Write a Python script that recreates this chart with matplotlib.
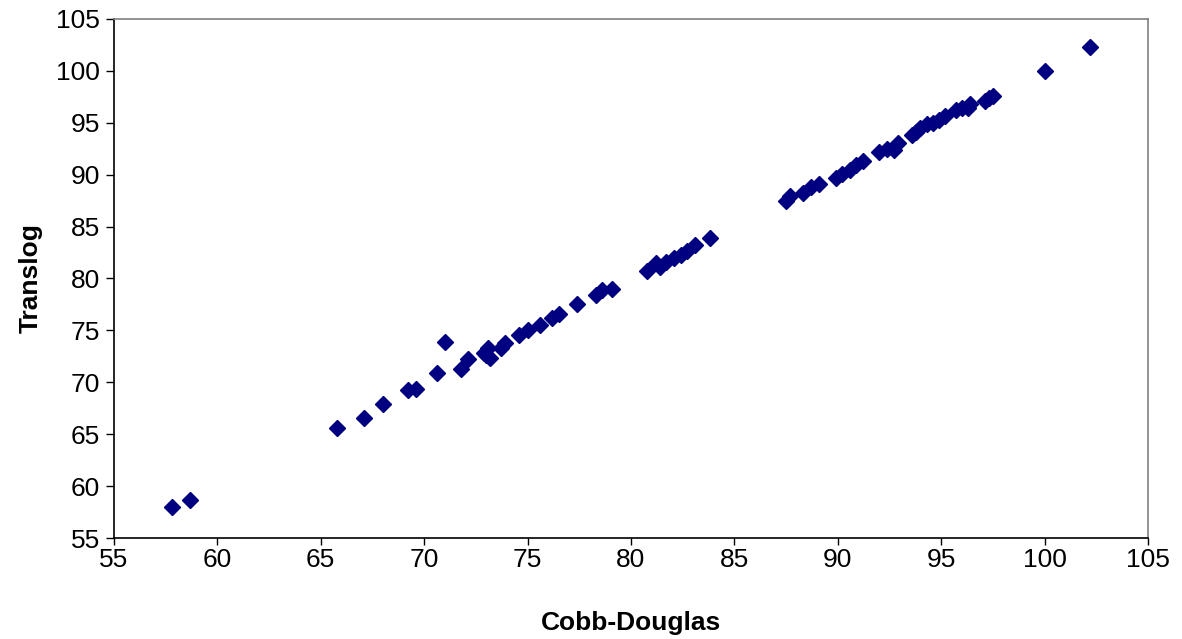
import matplotlib
matplotlib.use("Agg")
import numpy as np
from matplotlib import pyplot as plt

# Cobb-Douglas vs Translog estimates
cobb_douglas = [57.8, 58.7, 65.8, 67.1, 68.0, 69.2, 69.6, 70.6, 71.0, 71.8,
                72.1, 72.9, 73.1, 73.2, 73.0, 73.9, 73.7, 74.6, 75.0, 75.6,
                76.2, 76.5, 77.4, 78.3, 78.6, 79.1, 80.8, 81.2, 81.4, 81.7,
                82.1, 82.4, 82.7, 83.1, 83.8, 87.5, 87.7, 88.3, 88.7, 89.1,
                89.9, 90.2, 90.6, 90.9, 91.2, 92.0, 92.4, 92.7, 92.9, 93.6,
                93.8, 94.0, 94.3, 94.6, 94.9, 95.2, 95.7, 96.0, 96.4, 96.3,
                97.1, 97.3, 97.5, 100.0, 102.2]
translog = [58.0, 58.7, 65.6, 66.6, 67.9, 69.3, 69.4, 70.9, 73.9, 71.3,
            72.2, 72.8, 73.3, 72.3, 72.6, 73.8, 73.3, 74.6, 75.0, 75.5,
            76.2, 76.6, 77.5, 78.4, 78.9, 79.0, 80.7, 81.5, 81.1, 81.6,
            82.0, 82.3, 82.6, 83.2, 83.9, 87.5, 87.9, 88.2, 88.8, 89.1,
            89.7, 90.1, 90.4, 90.9, 91.3, 92.2, 92.5, 92.4, 93.0, 93.8,
            94.1, 94.5, 94.9, 95.0, 95.3, 95.6, 96.2, 96.4, 96.8, 96.4,
            97.1, 97.4, 97.6, 100.0, 102.3]
ticks = list(range(55, 106, 5))

plt.rcParams['font.family'] = ['Liberation Sans', 'DejaVu Sans']

fig = plt.figure(figsize=(11.82, 6.39), dpi=100)
ax = fig.add_axes([0.0964, 0.158, 0.8748, 0.8125])

ax.plot(cobb_douglas, translog, ls="none", marker="D", ms=8,
        color="#000080", mec="#000080")

ax.set_xlim(55, 105)
ax.set_ylim(55, 105)
ax.set_xticks(ticks)
ax.set_yticks(ticks)
ax.tick_params(direction="out", width=1, labelsize=19,
               top=False, right=False)
ax.tick_params(axis="y", length=6, pad=4)
ax.tick_params(axis="x", length=5, pad=2)

ax.spines["left"].set_color("black")
ax.spines["bottom"].set_color("black")
ax.spines["top"].set_color("#808080")
ax.spines["right"].set_color("#808080")
for s in ax.spines.values():
    s.set_linewidth(1.2)

ax.set_xlabel("Cobb-Douglas", fontsize=19, fontweight="bold", labelpad=28)
ax.set_ylabel("Translog", fontsize=19, fontweight="bold", labelpad=10)

fig.savefig("out.png", dpi=100)
